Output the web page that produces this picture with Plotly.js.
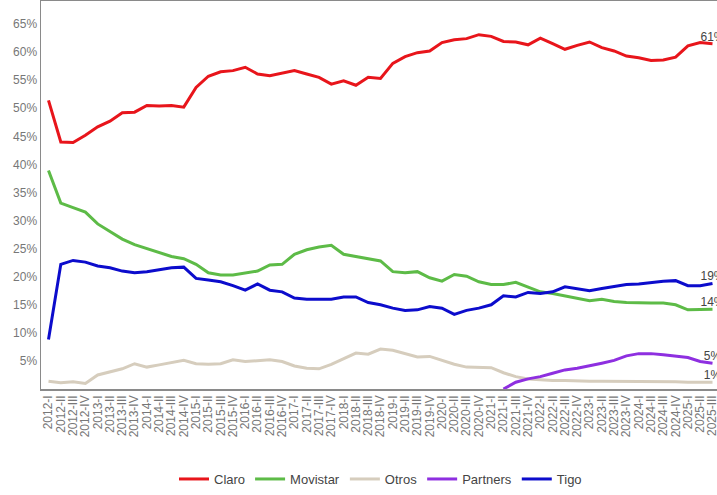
<!DOCTYPE html>
<html>
<head>
<meta charset="utf-8">
<script src="https://cdn.plot.ly/plotly-3.0.1.min.js"></script>
<style>
html,body{margin:0;padding:0;background:#fff;overflow:hidden;width:717px;height:495px;}
#chart{width:760px;height:495px;}
</style>
</head>
<body>
<div id="chart"></div>
<script>
const quarters = [
"2012-I","2012-II","2012-III","2012-IV","2013-I","2013-II","2013-III","2013-IV",
"2014-I","2014-II","2014-III","2014-IV","2015-I","2015-II","2015-III","2015-IV",
"2016-I","2016-II","2016-III","2016-IV","2017-I","2017-II","2017-III","2017-IV",
"2018-I","2018-II","2018-III","2018-IV","2019-I","2019-II","2019-III","2019-IV",
"2020-I","2020-II","2020-III","2020-IV","2021-I","2021-II","2021-III","2021-IV",
"2022-I","2022-II","2022-III","2022-IV","2023-I","2023-II","2023-III","2023-IV",
"2024-I","2024-II","2024-III","2024-IV","2025-I","2025-II","2025-III"];

const claro = [51.4,44.0,43.9,45.2,46.7,47.7,49.2,49.3,50.5,50.4,50.5,50.2,53.7,55.7,56.5,56.7,
57.3,56.1,55.8,56.3,56.7,56.1,55.5,54.3,54.9,54.1,55.5,55.3,58.0,59.2,59.9,60.2,
61.7,62.2,62.4,63.1,62.8,61.9,61.8,61.3,62.5,61.5,60.5,61.2,61.8,60.8,60.2,59.3,
59.0,58.5,58.6,59.1,61.1,61.7,61.5];

const movistar = [38.9,33.1,32.3,31.5,29.4,28.1,26.7,25.7,25.0,24.3,23.6,23.2,22.2,20.7,20.3,20.3,
20.7,21.0,22.1,22.2,24.0,24.8,25.3,25.6,24.0,23.6,23.3,22.8,20.9,20.7,20.9,19.8,
19.2,20.4,20.1,19.1,18.6,18.6,19.0,18.1,17.3,17.0,16.6,16.2,15.7,16.0,15.6,15.4,
15.3,15.3,15.3,15.0,14.1,14.1,14.2];

const otros = [1.4,1.1,1.3,1.0,2.5,3.1,3.6,4.5,3.9,4.3,4.7,5.1,4.5,4.4,4.5,5.2,
4.9,5.0,5.2,4.9,4.1,3.7,3.6,4.4,5.4,6.4,6.2,7.1,6.9,6.3,5.7,5.8,
5.1,4.4,3.9,3.9,3.8,2.9,2.2,1.8,1.6,1.5,1.5,1.4,1.4,1.4,1.4,1.4,
1.4,1.4,1.3,1.3,1.2,1.2,1.2];

const partners = [null,null,null,null,null,null,null,null,null,null,null,null,null,null,null,null,
null,null,null,null,null,null,null,null,null,null,null,null,null,null,null,null,
null,null,null,null,null,0.0,1.2,1.8,2.2,2.8,3.4,3.7,4.1,4.6,5.1,5.9,
6.3,6.3,6.1,5.9,5.6,4.9,4.6];

const tigo = [8.8,22.2,22.9,22.6,21.9,21.6,21.0,20.7,20.9,21.3,21.6,21.7,19.7,19.4,19.1,18.4,
17.6,18.7,17.6,17.3,16.2,16.0,16.0,16.0,16.4,16.4,15.4,15.0,14.4,14.0,14.1,14.7,
14.4,13.3,14.0,14.4,15.0,16.6,16.4,17.2,17.0,17.3,18.2,17.8,17.5,17.9,18.2,18.6,
18.7,19.0,19.2,19.3,18.4,18.4,18.8];

const endLabels = {Claro:"61%", Movistar:"14%", Otros:"1%", Partners:"5%", Tigo:"19%"};
const yTicks = [5,10,15,20,25,30,35,40,45,50,55,60,65];

const series = [
  {name:"Claro", y:claro, color:"#e8151b"},
  {name:"Movistar", y:movistar, color:"#5dbb47"},
  {name:"Otros", y:otros, color:"#d6cdbd"},
  {name:"Partners", y:partners, color:"#8e2fe0"},
  {name:"Tigo", y:tigo, color:"#0c0ccc"}
];

const traces = series.map(s => ({
  type:"scatter",
  mode:"lines+text",
  name:s.name,
  x:quarters,
  y:s.y,
  line:{color:s.color, width:3},
  text:s.y.map((v,i)=> i===s.y.length-1 ? endLabels[s.name] : ""),
  textposition:"top center",
  textfont:{family:"Liberation Sans, Arial, sans-serif", size:12, color:"#444"},
  cliponaxis:true,
  hoverinfo:"skip"
}));

const layout = {
  width:760, height:495,
  margin:{l:41, r:40, t:1, b:102},
  paper_bgcolor:"#fff", plot_bgcolor:"#fff",
  font:{family:"Liberation Sans, Arial, sans-serif", size:12, color:"#666"},
  showlegend:true,
  legend:{orientation:"h", x:0.5, xanchor:"center", y:-0.232, yanchor:"middle",
          font:{size:13, color:"#444"}, itemwidth:30, traceorder:"normal"},
  xaxis:{type:"category", range:[-0.61,54.61], tickmode:"linear", dtick:1, tick0:0,
         tickangle:-90, showgrid:false, zeroline:false, showline:true, mirror:true,
         linecolor:"#8a8a8a", linewidth:1.5, ticks:"", tickfont:{size:12, color:"#777"}},
  yaxis:{range:[0,69.1], tickmode:"array", tickvals:yTicks, ticktext:yTicks.map(v=>v+"%"),
         showgrid:false, zeroline:false, showline:true, mirror:true,
         linecolor:"#8a8a8a", linewidth:1.5, ticks:"", tickfont:{size:12, color:"#777"}},
  hovermode:false
};

Plotly.newPlot("chart", traces, layout, {displayModeBar:false, staticPlot:true});
</script>
</body>
</html>
